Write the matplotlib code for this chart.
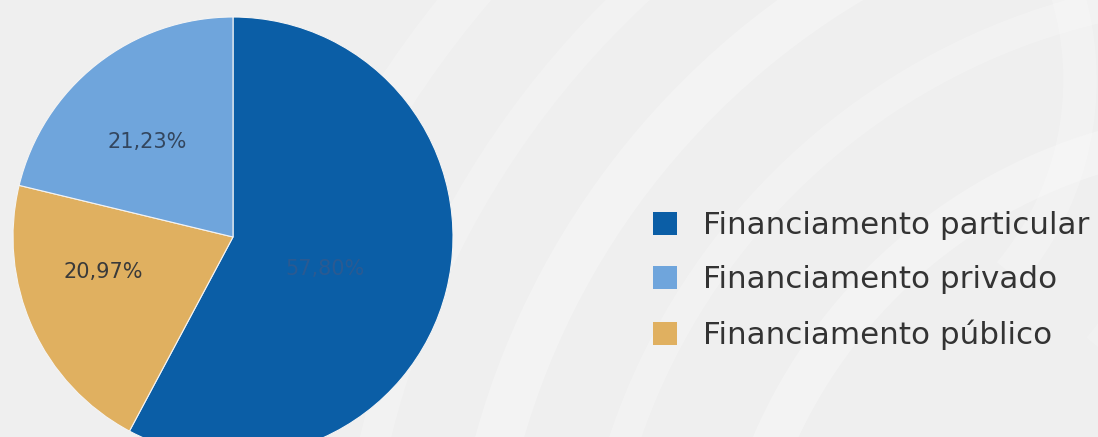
import numpy as np
import matplotlib
matplotlib.use("Agg")
import matplotlib.pyplot as plt
from matplotlib.patches import Arc

# ---- data ----
categories = ["Financiamento particular", "Financiamento público", "Financiamento privado"]
values = [57.80, 20.97, 21.23]
colors = ["#0b5ea6", "#e0b060", "#6fa5dc"]
label_colors = ["#2a5a92", "#3a3a3a", "#33465e"]
legend_order = ["Financiamento particular", "Financiamento privado", "Financiamento público"]

# label placement tweaks (layout only): radial factor and angle offset (deg)
label_r = [0.44, 0.61, 0.58]
label_dang = [-5, -9, 4]

W, H = 1098, 437
fig = plt.figure(figsize=(W / 100, H / 100), dpi=100)
fig.patch.set_facecolor("#efefef")

# ---- faint swirl background ----
bg = fig.add_axes([0, 0, 1, 1])
bg.set_xlim(0, W)
bg.set_ylim(H, 0)
bg.axis("off")
for r, lw, a in [(520, 30, 0.27), (660, 22, 0.22), (780, 34, 0.27), (900, 22, 0.2), (1020, 30, 0.22)]:
    bg.add_patch(Arc((1250, 650), 2 * r, 2 * r, theta1=180, theta2=280,
                     color="white", lw=lw, alpha=a))
for r, lw, a in [(300, 24, 0.22), (420, 28, 0.18)]:
    bg.add_patch(Arc((780, 80), 2 * r, 2 * r, theta1=-60, theta2=40,
                     color="white", lw=lw, alpha=a))

# ---- pie ----
cx, cy, R = 233, 237, 220
ax = fig.add_axes([(cx - R) / W, (H - cy - R) / H, 2 * R / W, 2 * R / H])
ax.axis("off")

def fmt(p):
    return f"{p:.2f}%".replace(".", ",")

wedges, texts, autotexts = ax.pie(
    values, colors=colors, startangle=90, counterclock=False,
    autopct=fmt, pctdistance=0.58, radius=1,
    wedgeprops=dict(edgecolor="#f4f4f4", linewidth=0.8),
    textprops=dict(fontsize=15, family="DejaVu Sans"))
ax.set_xlim(-1, 1)
ax.set_ylim(-1, 1)
ax.set_aspect("equal")
for w, t, c, rf, da in zip(wedges, autotexts, label_colors, label_r, label_dang):
    t.set_color(c)
    ang = np.deg2rad((w.theta1 + w.theta2) / 2 + da)
    t.set_position((rf * np.cos(ang), rf * np.sin(ang)))

# ---- legend ----
handle_map = dict(zip(categories, wedges))
handles = [handle_map[c] for c in legend_order]
leg = fig.legend(handles, legend_order, loc="upper left",
                 bbox_to_anchor=(653 / W, 1 - 211 / H), frameon=False,
                 prop=dict(family="DejaVu Sans", size=22.3),
                 handlelength=0.78, handleheight=0.78, handletextpad=0.85,
                 labelspacing=0.82, borderaxespad=0, borderpad=0)
for t in leg.get_texts():
    t.set_color("#333333")
for h in leg.legend_handles:
    h.set_edgecolor("none")

fig.savefig("out.png", dpi=100, facecolor=fig.get_facecolor())
